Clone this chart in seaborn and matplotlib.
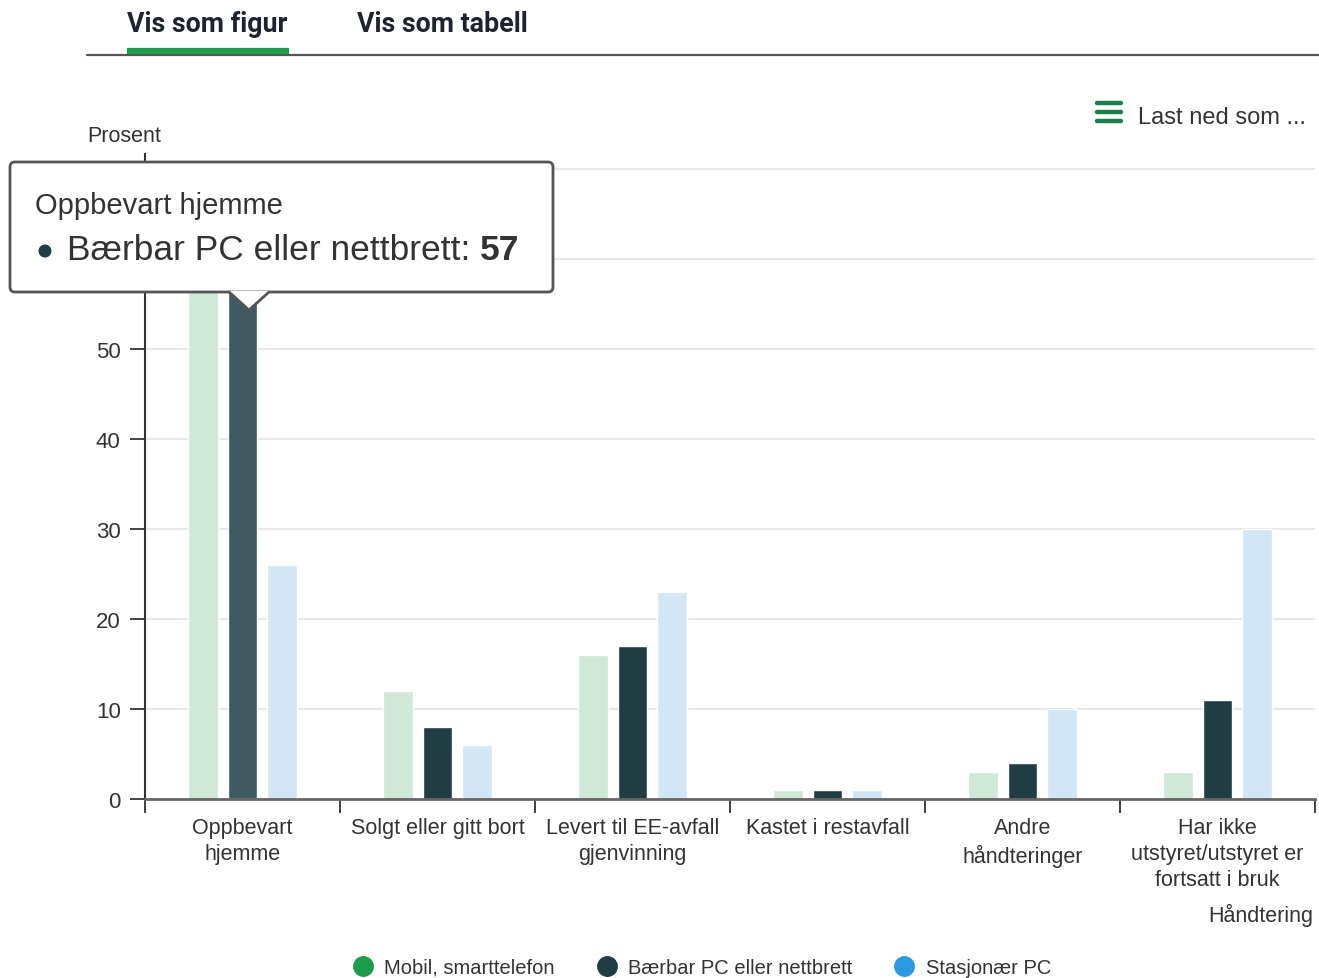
import matplotlib
matplotlib.use("Agg")
import matplotlib.pyplot as plt
import numpy as np
import pandas as pd
import seaborn as sns
from matplotlib.lines import Line2D
from matplotlib.patches import Circle, FancyBboxPatch, Polygon

# Data (prosent)
categories = [
    "Oppbevart\nhjemme",
    "Solgt eller gitt bort",
    "Levert til EE-avfall\ngjenvinning",
    "Kastet i restavfall",
    "Andre\nhåndteringer",
    "Har ikke\nutstyret/utstyret er\nfortsatt i bruk",
]
series = ["Mobil, smarttelefon", "Bærbar PC eller nettbrett", "Stasjonær PC"]
mobil = [62, 12, 16, 1, 3, 3]
baerbar = [57, 8, 17, 1, 4, 11]
stasjonaer = [26, 6, 23, 1, 10, 30]
yticks = [0, 10, 20, 30, 40, 50, 60, 70]
# 60 and 70 sit behind the tooltip in the reference
ytick_labels = ["0", "10", "20", "30", "40", "50", "", ""]

# Colours: faded bars (hover state) and full legend colours
bar_colors = ["#cfe8d7", "#1f3d42", "#d2e7f6"]
legend_colors = ["#1d9c4b", "#1f3d42", "#2a9be0"]
hover_color = "#3e5a60"

W, H = 1319, 979

df = pd.DataFrame({
    "kategori": categories * 3,
    "serie": [s for s in series for _ in categories],
    "prosent": mobil + baerbar + stasjonaer,
})

sns.set_theme(style="white")
plt.rcParams["font.family"] = ["Liberation Sans", "DejaVu Sans"]

fig = plt.figure(figsize=(W / 100, H / 100), dpi=100)
ax = fig.add_axes([145 / W, 1 - 800 / H, 1170 / W, 645 / H])

sns.barplot(
    data=df, x="kategori", y="prosent", hue="serie",
    palette=bar_colors, saturation=1, width=0.615, gap=0.25,
    errorbar=None, legend=False, ax=ax,
)

# hovered bar is drawn lighter
ax.containers[1][0].set_facecolor(hover_color)

ax.set_xlim(-0.5, 5.5)
ax.set_ylim(0, 645 / 9)
ax.set_yticks(yticks, ytick_labels)
ax.set_xlabel("")
ax.set_ylabel("")

ax.yaxis.grid(True, color="#e6e6e6", lw=1.3)
ax.set_axisbelow(True)
for s in ["top", "right"]:
    ax.spines[s].set_visible(False)
ax.spines["left"].set_color("#333333")
ax.spines["left"].set_linewidth(1.5)
ax.spines["bottom"].set_color("#666666")
ax.spines["bottom"].set_linewidth(2)
ax.spines["bottom"].set_zorder(5)

ax.tick_params(axis="y", length=10.5, width=1.3, color="#333333",
               labelsize=16, labelcolor="#333333", pad=7, left=True)
ax.tick_params(axis="x", which="major", length=0, labelsize=15.5,
               labelcolor="#333333", pad=13)
plt.setp(ax.get_xticklabels(), linespacing=1.3)
ax.set_xticks(np.arange(-0.5, 6, 1), minor=True)
ax.tick_params(axis="x", which="minor", length=10, width=1.3,
               color="#333333", bottom=True)

# axis titles
fig.text(87 / W, 1 - 137 / H, "Prosent", fontsize=15.5, color="#333333",
         ha="left", va="center")
fig.text(1313 / W, 1 - 915 / H, "Håndtering", fontsize=15.5,
         color="#333333", ha="right", va="center")

# legend
handles = [Line2D([], [], marker="o", ls="", markersize=14,
                  markerfacecolor=c, markeredgecolor=c) for c in legend_colors]
leg = fig.legend(handles, series, loc="center", bbox_to_anchor=(0.532, 0.011),
                 ncol=3, frameon=False, fontsize=14.5, handletextpad=0.55,
                 columnspacing=2.1, handlelength=1)
for t in leg.get_texts():
    t.set_color("#333333")

# overlay in pixel coordinates for page chrome and tooltip
ov = fig.add_axes([0, 0, 1, 1], zorder=10)
ov.set_xlim(0, W)
ov.set_ylim(H, 0)
ov.axis("off")
ov.patch.set_alpha(0)

# tabs
ov.text(127, 25, "Vis som figur", family="Roboto", fontweight="bold",
        fontsize=19.3, color="#1f2230", ha="left", va="center")
ov.text(357, 25, "Vis som tabell", family="Roboto", fontweight="bold",
        fontsize=19.3, color="#1f2230", ha="left", va="center")
ov.plot([87, W], [56, 56], color="#555555", lw=1.6)
ov.plot([127, 289], [52, 52], color="#1d9c4b", lw=4.5, solid_capstyle="butt")

# download menu
for yy in [104, 113, 122]:
    ov.plot([1097, 1121], [yy, yy], color="#1a7f4c", lw=3.2,
            solid_capstyle="round")
ov.text(1138, 118, "Last ned som ...", fontsize=17, color="#333333",
        ha="left", va="center")

# tooltip
box = FancyBboxPatch((10, 163), 543, 130,
                     boxstyle="round,pad=0,rounding_size=5",
                     fc="white", ec="#555555", lw=2)
ov.add_patch(box)
ov.add_patch(Polygon([(229, 292), (249, 311), (269, 292)], closed=True,
                     fc="white", ec="none"))
ov.plot([229, 249, 269], [293, 311, 293], color="#555555", lw=2)
ov.text(35, 206, "Oppbevart hjemme", fontsize=21, color="#333333",
        ha="left", va="center")
ov.add_patch(Circle((45, 252), 6.5, fc=legend_colors[1], ec="none"))
t2 = ov.text(67, 250, "Bærbar PC eller nettbrett: ", fontsize=25.5,
             color="#333333", ha="left", va="center")
ov.annotate("57", xy=(1, 0.5), xycoords=t2, fontsize=25.5, fontweight="bold",
            color="#333333", ha="left", va="center")

fig.savefig("out.png", dpi=100)
